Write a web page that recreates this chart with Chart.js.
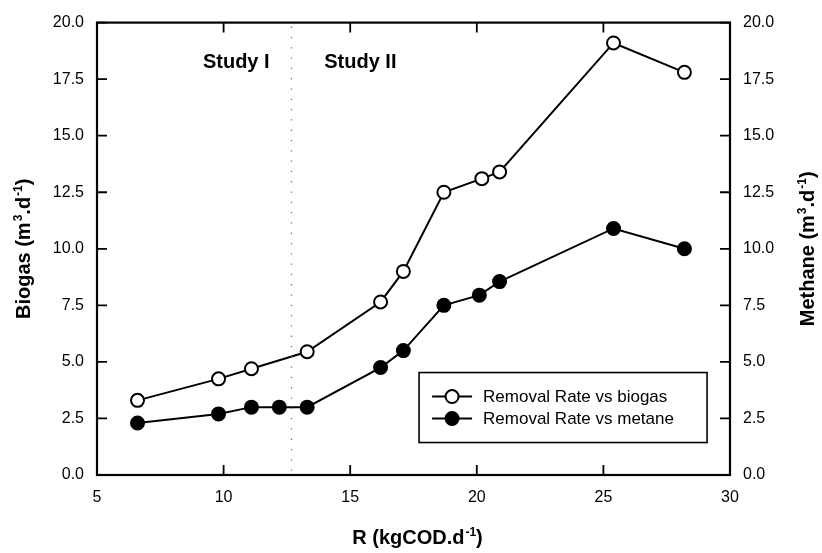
<!DOCTYPE html>
<html>
<head>
<meta charset="utf-8">
<script src="https://cdn.jsdelivr.net/npm/chart.js@4"></script>
<style>
  html, body { margin: 0; padding: 0; background: #fff; }
  #wrap { width: 822px; height: 553px; }
</style>
</head>
<body>
<div id="wrap"><canvas id="myChart" width="822" height="553"></canvas></div>
<script>
// removal rate (kgCOD/d) against gas production
var biogasRate = [6.6, 9.8, 11.1, 13.3, 16.2, 17.1, 18.7, 20.2, 20.9, 25.4, 28.2];
var biogasValues = [3.3, 4.25, 4.7, 5.45, 7.65, 9.0, 12.5, 13.1, 13.4, 19.1, 17.8];
var methaneRate = [6.6, 9.8, 11.1, 12.2, 13.3, 16.2, 17.1, 18.7, 20.1, 20.9, 25.4, 28.2];
var methaneValues = [2.3, 2.7, 3.0, 3.0, 3.0, 4.75, 5.5, 7.5, 7.95, 8.55, 10.9, 10.0];
var xTicks = [5, 10, 15, 20, 25, 30];
var yTicks = [0, 2.5, 5, 7.5, 10, 12.5, 15, 17.5, 20];
var studySplit = 12.67;
var studyLabels = [
  { text: 'Study I', x: 10.5, y: 18.25 },
  { text: 'Study II', x: 15.4, y: 18.25 }
];
// axis titles, split into normal and superscript runs
var xTitle = [['R (kgCOD.d'], ['-1', true], [')']];
var yLeftTitle = [['Biogas (m'], ['3', true], ['.d'], ['-1', true], [')']];
var yRightTitle = [['Methane (m'], ['3', true], ['.d'], ['-1', true], [')']];

var FONT = "'Liberation Sans', Arial, sans-serif";

function toPoints(xs, ys) {
  return xs.map(function(x, i) { return { x: x, y: ys[i] }; });
}

// draws a bold title with superscripts, centred on (cx, cy)
function drawTitle(ctx, parts, size, cx, cy, angle) {
  var supSize = Math.round(size * 0.62);
  var widths = parts.map(function(p) {
    ctx.font = 'bold ' + (p[1] ? supSize : size) + 'px ' + FONT;
    return ctx.measureText(p[0]).width + (p[1] ? 1 : 0);
  });
  var total = widths.reduce(function(a, b) { return a + b; }, 0);
  ctx.save();
  ctx.translate(cx, cy);
  ctx.rotate(angle);
  ctx.fillStyle = '#000';
  ctx.textAlign = 'left';
  ctx.textBaseline = 'alphabetic';
  var x = -total / 2;
  var base = size * 0.36;
  parts.forEach(function(p, i) {
    ctx.font = 'bold ' + (p[1] ? supSize : size) + 'px ' + FONT;
    ctx.fillText(p[0], x + (p[1] ? 1 : 0), p[1] ? base - size * 0.42 : base);
    x += widths[i];
  });
  ctx.restore();
}

// frame, inward ticks, study divider, annotations, titles and boxed legend
var decorations = {
  id: 'decorations',
  afterDatasetsDraw: function(chart) {
    var ctx = chart.ctx;
    var a = chart.chartArea;
    var xs = chart.scales.x, yl = chart.scales.y, yr = chart.scales.y2;
    ctx.save();

    // dotted divider between the two studies
    ctx.strokeStyle = '#777';
    ctx.lineWidth = 1.3;
    ctx.setLineDash([1.3, 9]);
    var dx = Math.round(xs.getPixelForValue(studySplit)) + 0.5;
    ctx.beginPath();
    ctx.moveTo(dx, a.top + 4);
    ctx.lineTo(dx, a.bottom);
    ctx.stroke();
    ctx.setLineDash([]);

    // plot frame
    ctx.strokeStyle = '#000';
    ctx.lineWidth = 2.2;
    ctx.strokeRect(a.left, a.top, a.right - a.left, a.bottom - a.top);

    // ticks pointing into the plot
    ctx.lineWidth = 1.8;
    ctx.beginPath();
    xTicks.forEach(function(v) {
      var px = xs.getPixelForValue(v);
      ctx.moveTo(px, a.bottom); ctx.lineTo(px, a.bottom - 10);
      ctx.moveTo(px, a.top); ctx.lineTo(px, a.top + 10);
    });
    yTicks.forEach(function(v) {
      var pl = yl.getPixelForValue(v), pr = yr.getPixelForValue(v);
      ctx.moveTo(a.left, pl); ctx.lineTo(a.left + 10, pl);
      ctx.moveTo(a.right, pr); ctx.lineTo(a.right - 10, pr);
    });
    ctx.stroke();

    // study labels
    ctx.fillStyle = '#000';
    ctx.font = 'bold 20px ' + FONT;
    ctx.textAlign = 'center';
    ctx.textBaseline = 'middle';
    studyLabels.forEach(function(s) {
      ctx.fillText(s.text, xs.getPixelForValue(s.x), yl.getPixelForValue(s.y));
    });

    // axis titles
    var midY = (a.top + a.bottom) / 2;
    drawTitle(ctx, xTitle, 20, (a.left + a.right) / 2 + 4, 537, 0);
    drawTitle(ctx, yLeftTitle, 20, 23, midY, -Math.PI / 2);
    drawTitle(ctx, yRightTitle, 20, 807, midY, -Math.PI / 2);

    // legend box
    var lx = xs.getPixelForValue(17.72), ly = yl.getPixelForValue(4.53);
    var lw = 288, lh = 70;
    ctx.fillStyle = '#fff';
    ctx.fillRect(lx, ly, lw, lh);
    ctx.lineWidth = 1.6;
    ctx.strokeStyle = '#000';
    ctx.strokeRect(lx, ly, lw, lh);
    chart.data.datasets.forEach(function(ds, i) {
      var cy = ly + 24 + i * 22;
      ctx.lineWidth = 2;
      ctx.beginPath();
      ctx.moveTo(lx + 13, cy); ctx.lineTo(lx + 53, cy);
      ctx.stroke();
      ctx.beginPath();
      ctx.arc(lx + 33, cy, 6.5, 0, Math.PI * 2);
      ctx.fillStyle = ds.pointBackgroundColor;
      ctx.fill();
      ctx.stroke();
      ctx.fillStyle = '#000';
      ctx.font = '17px ' + FONT;
      ctx.textAlign = 'left';
      ctx.fillText(ds.label, lx + 64, cy + 1);
    });
    ctx.restore();
  }
};

var ctx = document.getElementById('myChart').getContext('2d');
var myChart = new Chart(ctx, {
  type: 'scatter',
  data: {
    datasets: [{
      label: 'Removal Rate vs biogas',
      data: toPoints(biogasRate, biogasValues),
      yAxisID: 'y',
      showLine: true,
      borderColor: '#000',
      borderWidth: 2,
      pointRadius: 6.5,
      pointHoverRadius: 6.5,
      pointBorderWidth: 2,
      pointBorderColor: '#000',
      pointBackgroundColor: '#fff'
    }, {
      label: 'Removal Rate vs metane',
      data: toPoints(methaneRate, methaneValues),
      yAxisID: 'y2',
      showLine: true,
      borderColor: '#000',
      borderWidth: 2,
      pointRadius: 6.5,
      pointHoverRadius: 6.5,
      pointBorderWidth: 2,
      pointBorderColor: '#000',
      pointBackgroundColor: '#000'
    }]
  },
  options: {
    responsive: false,
    animation: false,
    layout: { padding: { top: 16 } },
    scales: {
      x: {
        type: 'linear',
        min: 5,
        max: 30,
        afterFit: function(scale) { scale.height = 78; },
        afterBuildTicks: function(scale) {
          scale.ticks = xTicks.map(function(v) { return { value: v }; });
        },
        grid: { display: false, drawTicks: false },
        border: { display: false },
        ticks: { color: '#000', padding: 13, font: { family: FONT, size: 16 } }
      },
      y: {
        position: 'left',
        min: 0,
        max: 20,
        afterFit: function(scale) { scale.width = 97; },
        afterBuildTicks: function(scale) {
          scale.ticks = yTicks.map(function(v) { return { value: v }; });
        },
        grid: { display: false, drawTicks: false },
        border: { display: false },
        ticks: {
          color: '#000',
          padding: 13,
          font: { family: FONT, size: 16 },
          callback: function(value) { return value.toFixed(1); }
        }
      },
      y2: {
        position: 'right',
        min: 0,
        max: 20,
        afterFit: function(scale) { scale.width = 92; },
        afterBuildTicks: function(scale) {
          scale.ticks = yTicks.map(function(v) { return { value: v }; });
        },
        grid: { display: false, drawTicks: false },
        border: { display: false },
        ticks: {
          color: '#000',
          padding: 13,
          font: { family: FONT, size: 16 },
          callback: function(value) { return value.toFixed(1); }
        }
      }
    },
    plugins: {
      legend: { display: false },
      tooltip: { enabled: false }
    }
  },
  plugins: [decorations]
});
</script>
</body>
</html>
